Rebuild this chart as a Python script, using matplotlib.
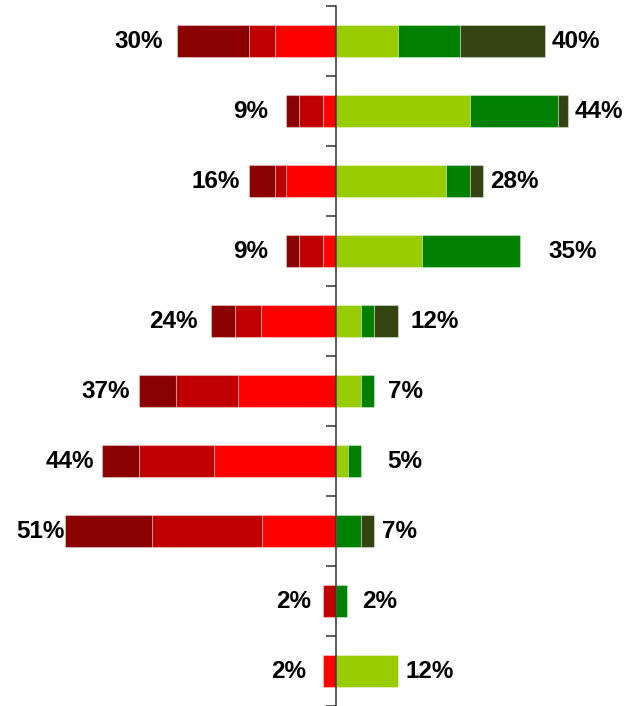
import matplotlib
matplotlib.use("Agg")
import matplotlib.pyplot as plt
import numpy as np

# share of answers per row, in percent (top row first)
neg_dark = [13.5, 2.5, 5.0, 2.5, 4.5, 7.1, 7.0, 16.5, 0.0, 0.0]
neg_mid = [5.0, 4.5, 2.1, 4.5, 5.0, 11.6, 14.1, 20.7, 2.4, 0.0]
neg_red = [11.5, 2.4, 9.4, 2.4, 14.1, 18.5, 23.0, 14.0, 0.0, 2.4]
pos_light = [11.7, 25.3, 20.7, 16.2, 4.7, 4.7, 2.2, 0.0, 0.0, 11.7]
pos_green = [11.7, 16.5, 4.6, 18.6, 2.4, 2.4, 2.5, 4.7, 2.1, 0.0]
pos_dark = [16.0, 2.0, 2.5, 0.0, 4.6, 0.0, 0.0, 2.4, 0.0, 0.0]
neg_labels = ["30%", "9%", "16%", "9%", "24%", "37%", "44%", "51%", "2%", "2%"]
pos_labels = ["40%", "44%", "28%", "35%", "12%", "7%", "5%", "7%", "2%", "12%"]

# label gaps to the bar ends, pixels
LEFT_GAP = [14, 18, 9, 18, 13, 9, 8, 0, 12, 17]
RIGHT_GAP = [7, 6, 7, 28, 12, 14, 26, 8, 15, 7]

EDGE = (1, 1, 1, 0.35)
BAR_H = 0.46

fig = plt.figure(figsize=(6.25, 7.06), dpi=100)
ax = fig.add_axes([0, 0, 1, 700 / 706])

y = np.arange(len(neg_red))


def stack(values, left, color):
    vals = np.array(values)
    edges = [EDGE if v != 0 else "none" for v in vals]
    ax.barh(y, vals, left=left, height=BAR_H, color=color, edgecolor=edges, linewidth=0.8)


r = np.array(neg_red)
m = np.array(neg_mid)
d = np.array(neg_dark)
stack(-r, 0, "#FF0000")
stack(-m, -r, "#C00000")
stack(-d, -r - m, "#8B0000")

lg = np.array(pos_light)
g = np.array(pos_green)
dk = np.array(pos_dark)
stack(lg, 0, "#99CC00")
stack(g, lg, "#008000")
stack(dk, lg + g, "#334411")

neg_tot = r + m + d
pos_tot = lg + g + dk
for i in range(len(y)):
    ax.annotate(neg_labels[i], xy=(-neg_tot[i], i), xytext=(-LEFT_GAP[i], 0),
                textcoords="offset pixels", ha="right", va="center",
                fontsize=17.5, fontweight="bold", family="Liberation Sans")
    ax.annotate(pos_labels[i], xy=(pos_tot[i], i), xytext=(RIGHT_GAP[i], 0),
                textcoords="offset pixels", ha="left", va="center",
                fontsize=17.5, fontweight="bold", family="Liberation Sans")

ax.set_xlim(-336 / 5.3, 289 / 5.3)
ax.set_ylim(len(y) - 0.5, -0.5)

for s in ["top", "right", "bottom"]:
    ax.spines[s].set_visible(False)
ax.spines["left"].set_position(("data", 0))
ax.spines["left"].set_color("#333333")
ax.spines["left"].set_linewidth(1.1)
ax.spines["left"].set_zorder(5)

ax.set_yticks(np.arange(-0.5, len(y), 1.0))
ax.set_yticklabels([])
ax.tick_params(axis="y", direction="out", length=7.2, width=1.1, color="#333333")
ax.set_xticks([])
ax.patch.set_visible(False)

fig.savefig("out.png", dpi=100)
